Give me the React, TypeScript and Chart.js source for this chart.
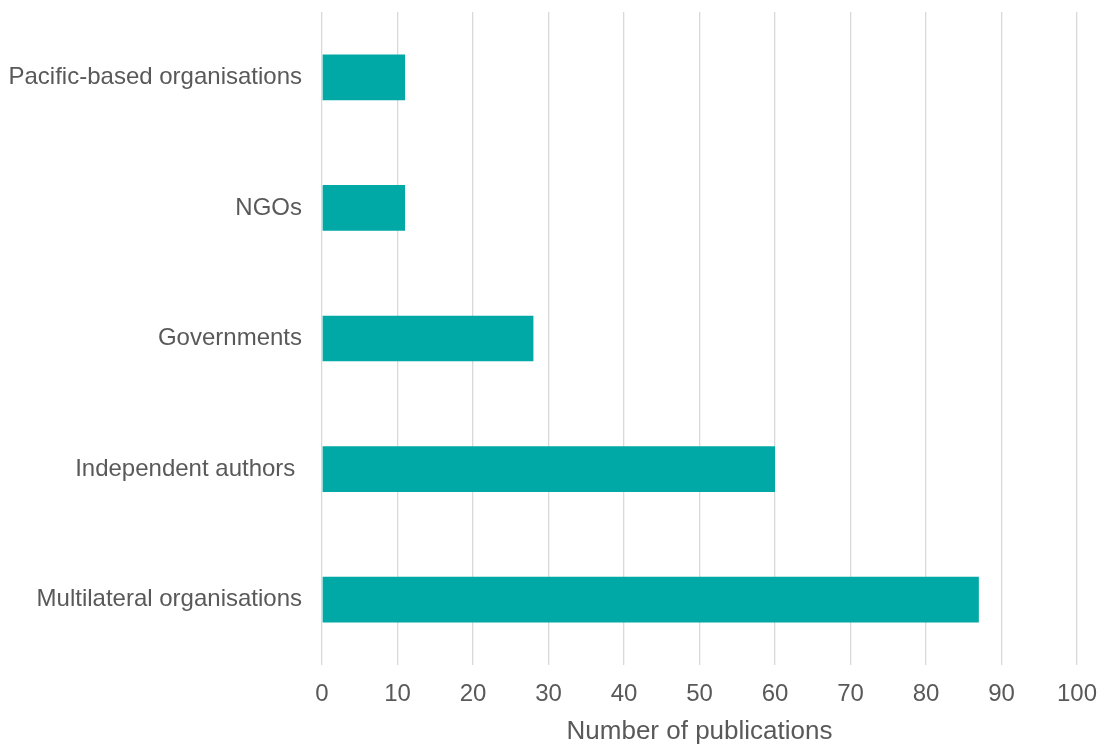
import React, { useEffect, useRef } from "react";
import { Chart, registerables } from "chart.js";

Chart.register(...registerables);

const categories = [
  "Pacific-based organisations",
  "NGOs",
  "Governments",
  "Independent authors ",
  "Multilateral organisations",
];
const publications = [11, 11, 28, 60, 87];
const xTicks = [0, 10, 20, 30, 40, 50, 60, 70, 80, 90, 100];

const FONT = "'Liberation Sans', Arial, sans-serif";

export default function App() {
  const ref = useRef<HTMLCanvasElement | null>(null);

  useEffect(() => {
    document.body.style.margin = "0";
    const canvas = ref.current;
    if (!canvas) return;
    const chart = new Chart(canvas, {
      type: "bar",
      data: {
        labels: categories,
        datasets: [
          {
            label: "Number of publications",
            data: publications,
            backgroundColor: "#00A9A5",
            borderWidth: 0,
            categoryPercentage: 1,
            barPercentage: 0.35,
          },
        ],
      },
      options: {
        indexAxis: "y",
        animation: false,
        responsive: false,
        maintainAspectRatio: false,
        layout: { padding: { top: 12, right: 22, left: 0, bottom: 0 } },
        plugins: {
          legend: { display: false },
          tooltip: { enabled: false },
        },
        scales: {
          x: {
            min: 0,
            max: 100,
            afterBuildTicks: (scale: any) => {
              scale.ticks = xTicks.map((v) => ({ value: v }));
            },
            grid: { color: "#d9d9d9", lineWidth: 1.3, drawTicks: false },
            border: { display: false },
            ticks: {
              color: "#595959",
              font: { family: FONT, size: 24 },
              padding: 15,
            },
            title: {
              display: true,
              text: "Number of publications",
              color: "#595959",
              font: { family: FONT, size: 26 },
              padding: { top: 8, bottom: -3 },
            },
            afterFit: (scale: any) => {
              scale.height = 79;
              scale.paddingLeft = 0;
              scale.paddingRight = 0;
            },
          },
          y: {
            grid: { display: false, drawTicks: false },
            border: { display: false },
            ticks: {
              color: "#595959",
              font: { family: FONT, size: 24 },
              padding: 20,
            },
            afterFit: (scale: any) => {
              scale.width = 322;
              scale.paddingTop = 0;
              scale.paddingBottom = 0;
            },
          },
        },
      },
    });
    return () => chart.destroy();
  }, []);

  return (
    <div style={{ width: 1099, height: 744, background: "#fff" }}>
      <canvas ref={ref} width={1099} height={744} style={{ display: "block" }} />
    </div>
  );
}
